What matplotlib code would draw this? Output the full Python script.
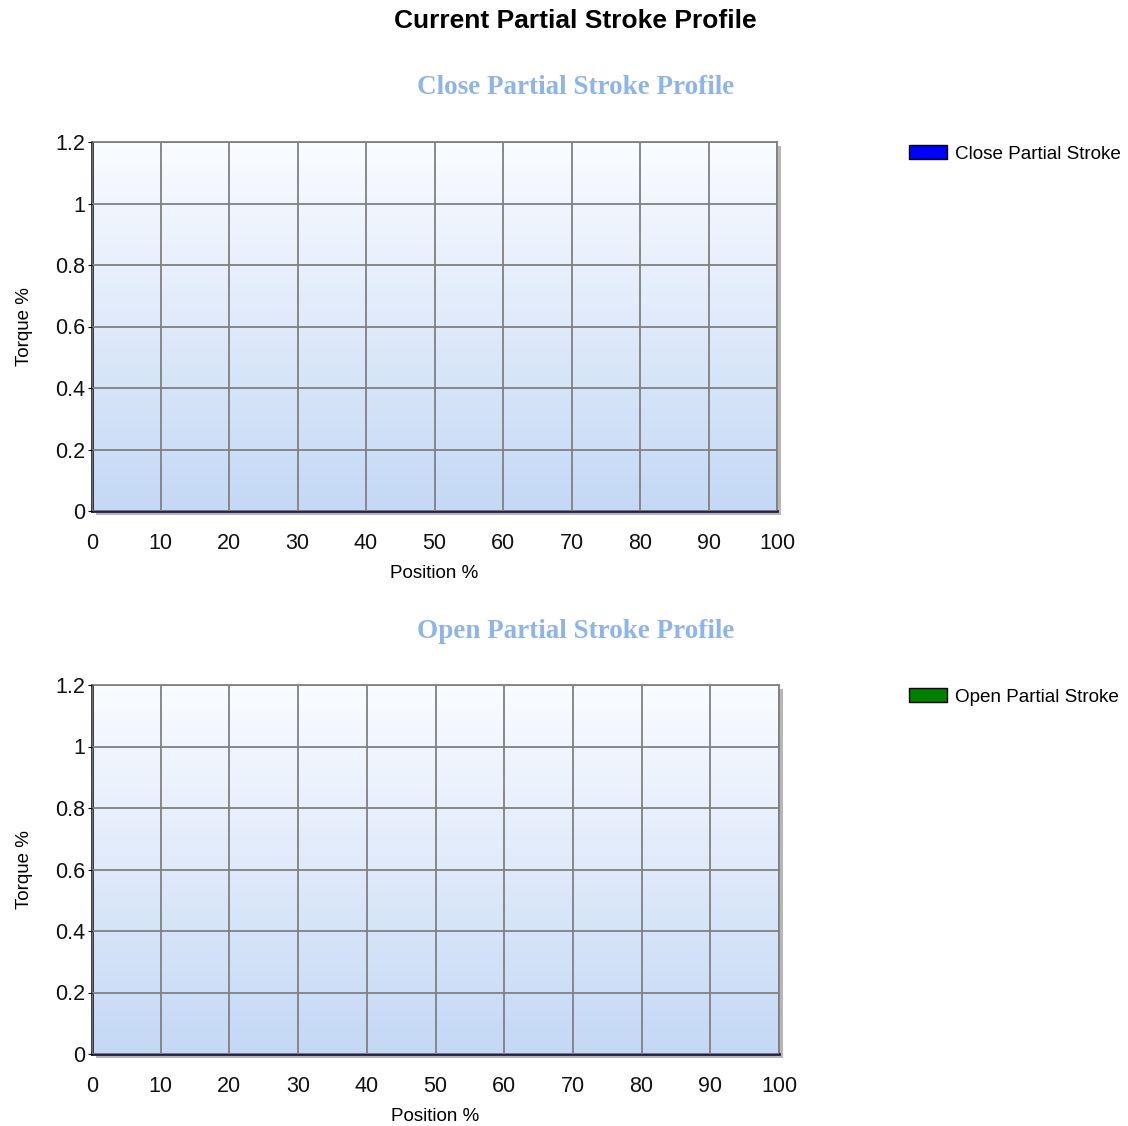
import numpy as np
import matplotlib
matplotlib.use("Agg")
import matplotlib.pyplot as plt
import matplotlib.patheffects as pe
from matplotlib.patches import Patch

plt.rcParams['font.family'] = ['Liberation Sans', 'DejaVu Sans']

# Series data (both profiles are empty in the reference)
close_position = []
close_torque = []
open_position = []
open_torque = []

x_ticks = [0, 10, 20, 30, 40, 50, 60, 70, 80, 90, 100]
y_ticks = [0, 0.2, 0.4, 0.6, 0.8, 1.0, 1.2]
y_labels = ["0", "0.2", "0.4", "0.6", "0.8", "1", "1.2"]

W, H = 1128, 1126
fig = plt.figure(figsize=(W / 100, H / 100), dpi=100)

fig.text(575 / W, 1 - 21 / H, "Current Partial Stroke Profile", ha='center', va='center',
         fontsize=19, fontweight='bold', color='black')

# vertical background gradient, white-ish at top to light blue at bottom
grad = np.linspace(0, 1, 256).reshape(-1, 1, 1)
top_col = np.array([250, 252, 255]) / 255
bot_col = np.array([196, 216, 245]) / 255
gradient = top_col + (bot_col - top_col) * grad


def draw_panel(rect, title, title_y, legend_y, xs, ys, colour, label):
    ax = fig.add_axes(rect)
    ax.patch.set_path_effects([pe.SimplePatchShadow(offset=(3, -3), shadow_rgbFace='#888888', alpha=0.6),
                               pe.Normal()])
    ax.imshow(gradient, extent=[0, 100, 0, 1.2], origin='upper', aspect='auto', zorder=0)
    ax.plot(xs, ys, color=colour)
    ax.set_xlim(0, 100)
    ax.set_ylim(0, 1.2)
    ax.set_xticks(x_ticks)
    ax.set_yticks(y_ticks)
    ax.set_yticklabels(y_labels)
    ax.grid(True, color='#808080', linewidth=1.3)
    ax.set_axisbelow(False)
    ax.tick_params(labelsize=15.5, length=3, color='black', pad=2, labelcolor='#111111')
    ax.tick_params(axis='x', length=0, pad=16)
    for s in ['top', 'right']:
        ax.spines[s].set_color('#808080')
        ax.spines[s].set_linewidth(1.3)
    ax.spines['left'].set_color('black')
    ax.spines['left'].set_linewidth(1.8)
    ax.spines['bottom'].set_color('#20204a')
    ax.spines['bottom'].set_linewidth(2)
    ax.set_xlabel("Position %", fontsize=13.5, labelpad=8)
    ax.set_ylabel("Torque %", fontsize=13.5, labelpad=16)
    fig.text(576 / W, 1 - title_y / H, title, ha='center', va='center', fontsize=19.5,
             fontweight='bold', family='Liberation Serif', color='#8fb4e8')
    fig.legend(handles=[Patch(facecolor=colour, edgecolor='black', label=label)],
               loc='upper left', bbox_to_anchor=(909 / W, 1 - legend_y / H),
               frameon=False, fontsize=13.6,
               handlelength=2.0, handleheight=0.77, handletextpad=0.42, borderaxespad=0,
               borderpad=0)
    return ax


ax1 = draw_panel([92 / W, 1 - 511 / H, 685 / W, 369 / H], "Close Partial Stroke Profile", 88, 145,
                 close_position, close_torque, '#0000ff', "Close Partial Stroke")
ax2 = draw_panel([92 / W, 1 - 1054 / H, 687 / W, 369 / H], "Open Partial Stroke Profile", 631, 688,
                 open_position, open_torque, '#008000', "Open Partial Stroke")

fig.savefig("out.png", dpi=100)
